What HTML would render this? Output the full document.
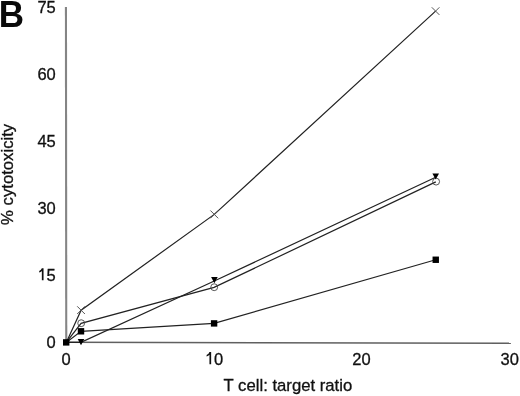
<!DOCTYPE html>
<html><head><meta charset="utf-8"><style>
html,body{margin:0;padding:0;background:#fff;width:520px;height:396px;overflow:hidden}
svg{display:block;will-change:transform}
text{font-family:"Liberation Sans",sans-serif;fill:#111;stroke:#111;stroke-width:0.3px}
</style></head><body>
<svg width="520" height="396" viewBox="0 0 520 396">
<rect width="520" height="396" fill="#fff"/>
<!-- panel letter -->
<text transform="translate(-1.35,26.5) scale(0.935,1)" font-size="37.5" font-weight="bold" style="fill:#0a0a0a;stroke:none">B</text>
<!-- axes -->
<line x1="65.95" y1="7" x2="66.25" y2="343.2" stroke="#858585" stroke-width="2.1"/>
<line x1="65" y1="342.3" x2="510.9" y2="343.2" stroke="#606060" stroke-width="1.6"/>
<!-- y tick labels -->
<g font-size="16.5" text-anchor="end">
<text x="55.8" y="12.7">75</text>
<text x="55.8" y="79.7">60</text>
<text x="55.8" y="146.6">45</text>
<text x="55.8" y="213.6">30</text>
<text x="55.8" y="280.5">5</text>
<text x="55.8" y="347.5">0</text>
</g>
<!-- x tick labels -->
<g font-size="16.5" text-anchor="middle">
<text x="66.2" y="364.9">0</text>
<text x="214" y="364.9" text-anchor="start">0</text>
<text x="361.5" y="364.9">20</text>
<text x="509.7" y="364.9">30</text>
</g>
<!-- digit 1 glyphs (Helvetica style, no foot) -->
<g fill="#111" stroke="none">
<path d="M41.85,268.3 L43.55,268.3 L43.55,280.3 L41.85,280.3 L41.85,270.9 Q40.9,271.9 39.2,272.5 L39.2,270.9 Q41.3,270.0 41.85,268.3 Z"/>
<path d="M209.45,352.1 L211.15,352.1 L211.15,364.3 L209.45,364.3 L209.45,354.8 Q208.5,355.8 206.6,356.5 L206.6,354.9 Q208.9,354.0 209.45,352.1 Z"/>
</g>
<!-- axis titles -->
<text x="223.6" y="390.9" font-size="16.7">T cell: target ratio</text>
<text transform="translate(13.1,224.9) rotate(-90)" font-size="16.7">% cytotoxicity</text>
<!-- data lines -->
<g fill="none" stroke="#222" stroke-width="1.2">
<polyline points="66.3,342.5 81.1,310.2 214.3,214.4 435.6,11.1"/>
<polyline points="66.2,342.4 81.1,323.4 214.1,287.4 435.8,181.9"/>
<polyline points="66.2,342.4 81.0,342.4 214.3,281.0 435.7,177.3"/>
<polyline points="66.2,342.4 81.0,331.3 214.1,323.4 435.75,259.75"/>
</g>
<!-- markers: X -->
<g stroke="#555" stroke-width="1" fill="none">
<path d="M77.2,306.3 L84.9,314.0 M77.2,314.0 L84.9,306.3"/>
<path d="M210.4,210.5 L218.2,218.3 M210.4,218.3 L218.2,210.5"/>
<path d="M431.8,7.3 L439.4,14.9 M431.8,14.9 L439.4,7.3"/>
</g>
<!-- circles -->
<g stroke="#444" stroke-width="0.9" fill="none">
<circle cx="81.2" cy="323.2" r="3.45"/>
<circle cx="214.2" cy="287.2" r="3.45"/>
<circle cx="436.1" cy="181.6" r="3.45"/>
</g>
<!-- squares -->
<g fill="#000">
<rect x="63.00" y="339.20" width="6.4" height="6.4"/>
<rect x="77.80" y="328.10" width="6.4" height="6.4"/>
<rect x="210.90" y="320.20" width="6.4" height="6.4"/>
<rect x="432.55" y="256.55" width="6.4" height="6.4"/>
</g>
<!-- triangles (down) -->
<g fill="#000">
<path d="M77.70,339.00 L84.30,339.00 L81.00,345.20 Z"/>
<path d="M211.10,277.10 L217.70,277.10 L214.40,283.30 Z"/>
<path d="M432.40,173.40 L439.00,173.40 L435.70,179.60 Z"/>
</g>
</svg>
</body></html>
